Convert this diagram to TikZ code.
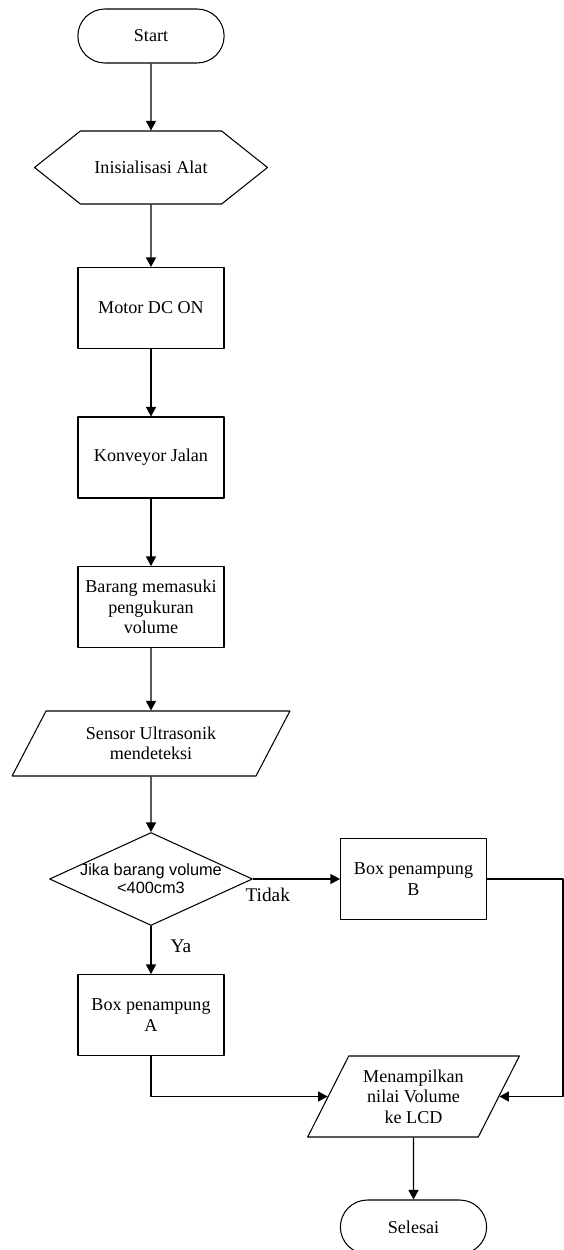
\documentclass[tikz,border=0pt]{standalone}
\usepackage{fontspec}
\setmainfont{Liberation Serif}
\setsansfont{Liberation Sans}
\usetikzlibrary{arrows.meta,shapes.geometric,shapes.misc,shapes.symbols}
\tikzset{
  terminal/.style={draw,rounded rectangle,minimum width=3.16cm,minimum height=1.08cm},
  proses/.style={draw,rectangle,minimum width=2.92cm,minimum height=1.62cm,align=center},
  persiapan/.style={draw,signal,signal to=west and east,signal pointer angle=77,minimum width=4.66cm,minimum height=1.46cm},
  io/.style={draw,trapezium,trapezium stretches,trapezium left angle=63,trapezium right angle=117,align=center},
  keputusan/.style={draw,diamond,minimum width=4.06cm,minimum height=1.86cm,inner sep=0pt},
  ket/.style={inner sep=0pt,font=\fontsize{11}{13}\selectfont}
}
\begin{document}
\begin{tikzpicture}[x=0.02cm,y=-0.02cm,>={Triangle[length=0.19cm,width=0.2cm]},line join=round,line width=0.6pt,font=\fontsize{10.3}{11.7}\selectfont]
\clip (0,0) rectangle (564,1250);
\node[terminal] (start) at (151,36) {Start};
\node[persiapan] (init) at (151,167.5) {Inisialisasi Alat};
\node[proses] (motor) at (151,308) {Motor DC ON};
\node[proses] (konveyor) at (151,457.5) {Konveyor Jalan};
\node[proses] (barang) at (151,607) {Barang memasuki\\pengukuran\\volume};
\node[io,minimum width=5.56cm,minimum height=1.3cm] (sensor) at (151,743.5) {Sensor Ultrasonik\\mendeteksi};
\node[keputusan] (cek) at (151,879) {};
\node[font=\sffamily\fontsize{9.3}{10.2}\selectfont,align=center] (cektxt) at (cek) {Jika barang volume\\<400cm3};
\node[proses] (boxB) at (413.5,879) {Box penampung\\B};
\node[proses] (boxA) at (151,1015) {Box penampung\\A};
\node[io,trapezium left angle=61.5,trapezium right angle=118.5,minimum width=4.24cm,minimum height=1.62cm] (tampil) at (413.5,1096.5) {Menampilkan\\nilai Volume\\ke LCD};
\node[terminal] (selesai) at (413.5,1227) {Selesai};
\coordinate (kanan) at (563,0);
\node[ket,anchor=base west] (tidak) at (245,901) {Tidak};
\node[ket,anchor=base west] (ya) at (170,952) {Ya};
\draw[->] (start) -- (init);
\draw[->] (init) -- (motor);
\draw[->] (motor) -- (konveyor);
\draw[->] (konveyor) -- (barang);
\draw[->] (barang) -- (sensor);
\draw[->] (sensor) -- (cek);
\draw[->] (cek.east) -- (boxB.west);
\draw[->] (cek.south) -- (boxA.north);
\draw[->] (boxA.south) |- (tampil.west);
\draw[->] (boxB.east) -- (boxB.east -| kanan) |- (tampil.east);
\draw[->] (tampil) -- (selesai);
\end{tikzpicture}
\end{document}
